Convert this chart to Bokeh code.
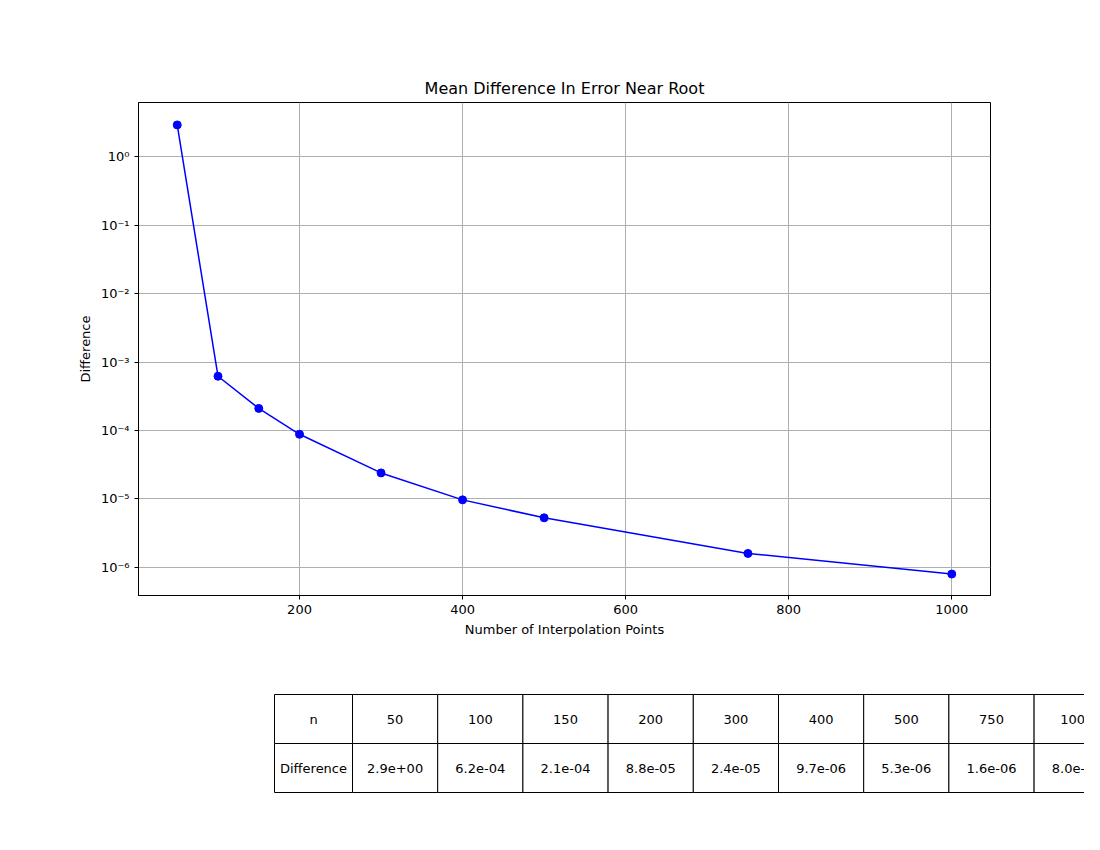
from bokeh.embed import file_html
from bokeh.resources import INLINE
from bokeh.plotting import figure
from bokeh.layouts import column
from bokeh.models import ColumnDataSource, Range1d, CustomJSTickFormatter, FixedTicker
from bokeh.core.properties import value

# data
n_points = [50, 100, 150, 200, 300, 400, 500, 750, 1000]
difference = [2.9e+00, 6.2e-04, 2.1e-04, 8.8e-05, 2.4e-05, 9.7e-06, 5.3e-06, 1.6e-06, 8.0e-07]
row_labels = ["n", "Difference"]

FONT = "DejaVu Sans"

p = figure(width=1084, height=645, y_axis_type="log",
           x_range=Range1d(2.5, 1047.5), y_range=Range1d(10 ** -6.41, 10 ** 0.79),
           output_backend="svg", toolbar_location=None,
           title="Mean Difference In Error Near Root",
           x_axis_label="Number of Interpolation Points", y_axis_label="Difference",
           min_border_left=138, min_border_right=94, min_border_top=102, min_border_bottom=50)
p.title.align = "center"
p.title.text_font = FONT
p.title.text_font_size = "16px"
p.title.text_font_style = "normal"
p.title.text_color = "black"
p.outline_line_color = "black"
p.background_fill_color = "white"

p.line(n_points, difference, line_color="blue", line_width=1.5)
p.scatter(n_points, difference, size=8, color="blue")

p.xaxis.ticker = FixedTicker(ticks=[200, 400, 600, 800, 1000])
p.yaxis.ticker = FixedTicker(ticks=[10 ** k for k in range(-6, 1)])
p.yaxis.formatter = CustomJSTickFormatter(code="""
const sup = {'-':'\u207b','0':'\u2070','1':'\u00b9','2':'\u00b2','3':'\u00b3','4':'\u2074','5':'\u2075','6':'\u2076','7':'\u2077','8':'\u2078','9':'\u2079'};
const e = Math.round(Math.log10(tick)).toString();
return '10' + e.split('').map(c => sup[c]).join('');
""")
for ax in (p.xaxis, p.yaxis):
    ax.axis_label_text_font = FONT
    ax.axis_label_text_font_size = "13px"
    ax.axis_label_text_font_style = "normal"
    ax.axis_label_text_color = "black"
    ax.major_label_text_font = FONT
    ax.major_label_text_font_size = "13px"
    ax.major_label_text_color = "black"
    ax.major_tick_out = 4
    ax.major_tick_in = 0
    ax.minor_tick_out = 2
    ax.minor_tick_in = 0
    ax.axis_line_color = "black"
p.xaxis.minor_tick_line_color = None
p.grid.grid_line_color = "#b0b0b0"
p.grid.grid_line_width = 1

# table
t = figure(frame_width=1084, frame_height=190, x_range=Range1d(0, 1084), y_range=Range1d(190, 0),
           output_backend="svg", toolbar_location=None, min_border=0,
           x_axis_location=None, y_axis_location=None)
t.grid.visible = False
t.outline_line_color = None

left0, first_w, col_w, top0, row_h = 136, 78, 85.2, 49, 49
cells = []
for r, (lab, vals) in enumerate([(row_labels[0], [str(v) for v in n_points]),
                                 (row_labels[1], ["%.1e" % v for v in difference])]):
    texts = [lab] + vals
    for c, txt in enumerate(texts):
        x0 = left0 if c == 0 else left0 + first_w + (c - 1) * col_w
        w = first_w if c == 0 else col_w
        cells.append((x0, x0 + w, top0 + r * row_h, top0 + (r + 1) * row_h, txt))
src = ColumnDataSource(dict(
    left=[c[0] for c in cells], right=[c[1] for c in cells],
    top=[c[2] for c in cells], bottom=[c[3] for c in cells],
    cx=[(c[0] + c[1]) / 2 for c in cells], cy=[(c[2] + c[3]) / 2 for c in cells],
    txt=[c[4] for c in cells]))
t.quad(left="left", right="right", top="top", bottom="bottom", source=src,
       fill_color="white", line_color="black", line_width=1)
t.text(x="cx", y="cy", text="txt", source=src, text_align="center", text_baseline="middle",
       text_font=value(FONT), text_font_size="13px", text_color="black")

layout = column(p, t, spacing=0)
open("out.html", "w").write(file_html(layout, INLINE))
